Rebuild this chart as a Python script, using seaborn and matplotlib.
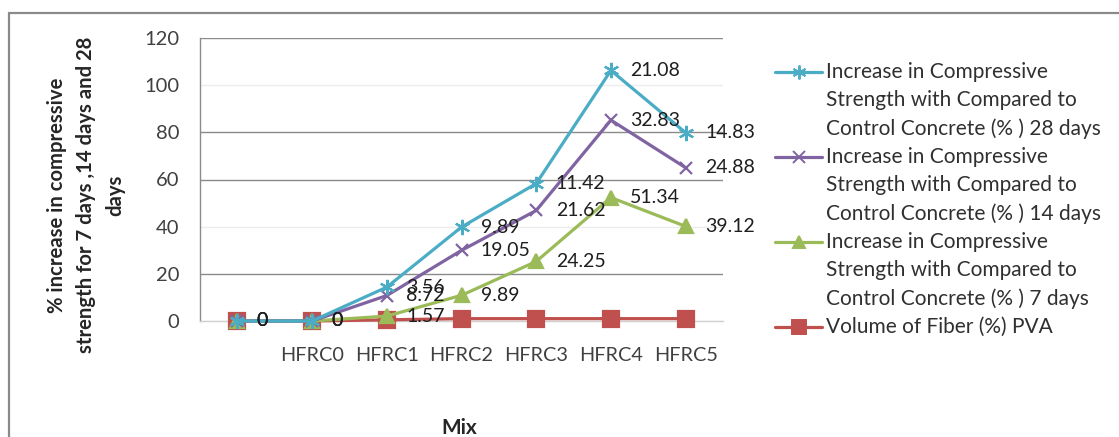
import numpy as np
import pandas as pd
import matplotlib
matplotlib.use("Agg")
import matplotlib.pyplot as plt
from matplotlib.lines import Line2D
from matplotlib.patches import Rectangle
import seaborn as sns

# ---- data -------------------------------------------------------------
mixes = ["", "HFRC0", "HFRC1", "HFRC2", "HFRC3", "HFRC4", "HFRC5"]
fiber_pva = [0, 0, 0.5, 1, 1, 1, 1]
gain_7d = [0, 0, 1.57, 9.89, 24.25, 51.34, 39.12]
gain_14d = [0, 0, 8.72, 19.05, 21.62, 32.83, 24.88]
gain_28d = [0, 0, 3.56, 9.89, 11.42, 21.08, 14.83]

series_names = [
    "Volume of Fiber (%) PVA",
    "Increase in Compressive\nStrength with Compared to\nControl Concrete (% ) 7 days",
    "Increase in Compressive\nStrength with Compared to\nControl Concrete (% ) 14 days",
    "Increase in Compressive\nStrength with Compared to\nControl Concrete (% ) 28 days",
]
series_values = [fiber_pva, gain_7d, gain_14d, gain_28d]
colors = ["#C0504D", "#9BBB59", "#8064A2", "#4BACC6"]
markers = ["s", "^", "x", (6, 2, 0)]
marker_sizes = [11, 10, 9, 11]
show_labels = [False, True, True, True]

# stacked line chart: each series sits on top of the ones before it
pos = np.arange(len(mixes))
stacked = np.cumsum(np.array(series_values, dtype=float), axis=0)

rows = []
for name, raw, cum in zip(series_names, series_values, stacked):
    for p, r, c in zip(pos, raw, cum):
        rows.append({"series": name, "pos": p, "value": r, "stacked": c})
df = pd.DataFrame(rows)

# ---- figure -----------------------------------------------------------
sns.set_style("white")
plt.rcParams["font.family"] = ["Lato", "DejaVu Sans"]

W, H = 1119, 437
fig = plt.figure(figsize=(W / 100, H / 100), dpi=100)
fig.patch.set_facecolor("white")

# chart frame (extends past the right and bottom edges)
fig.patches.append(Rectangle((9 / W, -0.2), 1.2, 1 - 13 / H + 0.2,
                             transform=fig.transFigure, fill=False,
                             edgecolor="#8a8a8a", linewidth=1.6))

ax = fig.add_axes([200 / W, 1 - 321 / H, 523 / W, 283 / H])

for name, col, mk, ms in zip(series_names, colors, markers, marker_sizes):
    sub = df[df["series"] == name]
    sns.lineplot(data=sub, x="pos", y="stacked", ax=ax, color=col,
                 linewidth=2.3, marker=mk, markersize=ms,
                 markerfacecolor=col, markeredgecolor=col,
                 markeredgewidth=1.6, sort=False, legend=False,
                 clip_on=False, zorder=3)

# data labels: raw value placed right of the stacked point
for name, show in zip(series_names, show_labels):
    if not show:
        continue
    sub = df[df["series"] == name]
    for p, v, c in zip(sub["pos"], sub["value"], sub["stacked"]):
        ax.annotate(f"{v:g}", (p, c), xytext=(14, 0),
                    textcoords="offset points", ha="left", va="center",
                    fontsize=14, color="#1e1e1e", zorder=5)

# axes styling
ax.set_xlim(-0.5, len(mixes) - 0.5)
ax.set_ylim(0, 120)
yt = list(range(0, 121, 20))
ax.set_yticks(yt)
ax.set_xticks(pos)
ax.set_xticklabels(mixes)
ax.set_xticks(np.arange(0.5, len(mixes), 1.0), minor=True)

ax.tick_params(axis="y", which="major", length=5, color="#8a8a8a",
               width=1, pad=10, labelsize=14.5, labelcolor="#404040")
ax.tick_params(axis="x", which="major", length=0, pad=19,
               labelsize=14.3, labelcolor="#404040")
ax.tick_params(axis="x", which="minor", length=4, color="#b5b5b5",
               width=1, direction="out")

ax.set_axisbelow(True)
ax.yaxis.grid(True, color="#8a8a8a", linewidth=1)
for gl, v in zip(ax.get_ygridlines(), yt):
    if v in (0, 40, 100):
        gl.set_color("#ececec")

for s in ("top", "right"):
    ax.spines[s].set_visible(False)
ax.spines["left"].set_color("#8a8a8a")
ax.spines["left"].set_linewidth(1)
ax.spines["bottom"].set_color("#cfcfcf")
ax.spines["bottom"].set_linewidth(1)

ax.set_ylabel("% increase in compressive\nstrength for 7 days ,14 days and 28\ndays",
              fontsize=14.6, fontweight="bold", color="#262626",
              rotation=90, ha="center", va="center", multialignment="center",
              linespacing=1.55)
ax.yaxis.set_label_coords((86 - 200) / 523, (321 - 195) / 283)
ax.set_xlabel("Mix", fontsize=15, fontweight="bold", color="#262626",
              va="center")
ax.xaxis.set_label_coords((459 - 200) / 523, (321 - 428) / 283)

# ---- legend (handle aligned with first line of each entry) ------------
legend_order = [3, 2, 1, 0]
line_pitch = 28.4
y_line = 71.7
for idx in legend_order:
    col, mk, ms = colors[idx], markers[idx], marker_sizes[idx]
    fy = 1 - y_line / H
    fig.add_artist(Line2D([775 / W, 822 / W], [fy, fy], color=col,
                          linewidth=2.3, transform=fig.transFigure))
    fig.add_artist(Line2D([798.5 / W], [fy], color=col, marker=mk,
                          markersize=ms - 1, markerfacecolor=col,
                          markeredgecolor=col, markeredgewidth=1.4,
                          linestyle="none", transform=fig.transFigure))
    for line in series_names[idx].split("\n"):
        fig.text(826 / W, 1 - y_line / H, line, fontsize=15,
                 color="#303030", ha="left", va="center")
        y_line += line_pitch

fig.savefig("out.png", dpi=100, facecolor="white")
